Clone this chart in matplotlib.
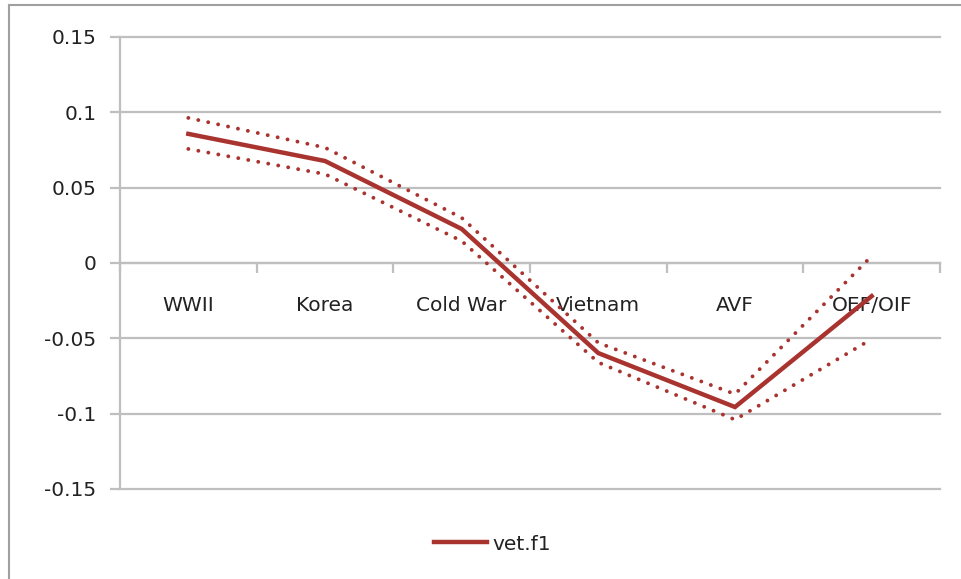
import matplotlib
matplotlib.use("Agg")
import matplotlib.pyplot as plt
from matplotlib.lines import Line2D
import numpy as np

categories = ["WWII", "Korea", "Cold War", "Vietnam", "AVF", "OEF/OIF"]
vet_f1 = [0.0857, 0.0677, 0.0226, -0.0598, -0.0956, -0.022]
upper = [0.0963, 0.0766, 0.0300, -0.0530, -0.0870, 0.0046]
lower = [0.0757, 0.0590, 0.0146, -0.0660, -0.1040, -0.0505]
y_ticks = [-0.15, -0.1, -0.05, 0, 0.05, 0.1, 0.15]
y_labels = ["-0.15", "-0.1", "-0.05", "0", "0.05", "0.1", "0.15"]

color = "#A8332F"
grid_c = "#BFBFBF"
font = "DejaVu Sans"
fs = 14.5

fig = plt.figure(figsize=(9.61, 5.79), dpi=100)
ax = fig.add_axes([120/961, 1-489/579, (940-120)/961, (489-37)/579])

x = np.arange(len(categories))
ax.plot(x, vet_f1, color=color, lw=3.2, solid_joinstyle="miter", label="vet.f1", zorder=3)
dot_style = (0, (0.01, 2.6))
ax.plot(x, upper, color=color, lw=2.8, linestyle=dot_style, dash_capstyle="round", zorder=3)
ax.plot(x, lower, color=color, lw=2.8, linestyle=dot_style, dash_capstyle="round", zorder=3)

ax.set_xlim(-0.5, len(categories) - 0.5)
ax.set_ylim(-0.15, 0.15)
ax.set_yticks(y_ticks)
ax.set_yticklabels(y_labels, fontsize=fs, family=font)
ax.yaxis.grid(True, color=grid_c, lw=1.6)
for gl in ax.get_ygridlines():
    gl.set_clip_on(False)
ax.set_axisbelow(True)

for s in ["top", "right"]:
    ax.spines[s].set_visible(False)
ax.spines["left"].set_color(grid_c)
ax.spines["left"].set_linewidth(1.6)
ax.spines["bottom"].set_position(("data", 0))
ax.spines["bottom"].set_color(grid_c)
ax.spines["bottom"].set_linewidth(1.6)

ax.tick_params(axis="y", length=7, width=1.6, color=grid_c, pad=10, labelcolor="#222222")
ax.set_xticks(x)
ax.set_xticklabels(categories, fontsize=fs, family=font, color="#222222")
ax.tick_params(axis="x", which="major", length=0, pad=24)
ax.set_xticks(np.arange(-0.5, len(categories)), minor=True)
ax.tick_params(axis="x", which="minor", length=7, width=1.6, color=grid_c, direction="out")

leg = fig.legend(handles=[Line2D([0], [0], color=color, lw=3.2)], labels=["vet.f1"],
                 loc="center", bbox_to_anchor=(493/961, 1-544/579), frameon=False,
                 prop={"family": font, "size": fs}, handlelength=2.6, handletextpad=0.3)
for t in leg.get_texts():
    t.set_color("#222222")

fig.add_artist(Line2D([9/961, 9/961], [0, 1-5/579], transform=fig.transFigure, color="#A0A0A0", lw=1.5))
fig.add_artist(Line2D([9/961, 1], [1-5/579, 1-5/579], transform=fig.transFigure, color="#A0A0A0", lw=1.5))

fig.savefig("out.png", dpi=100)
